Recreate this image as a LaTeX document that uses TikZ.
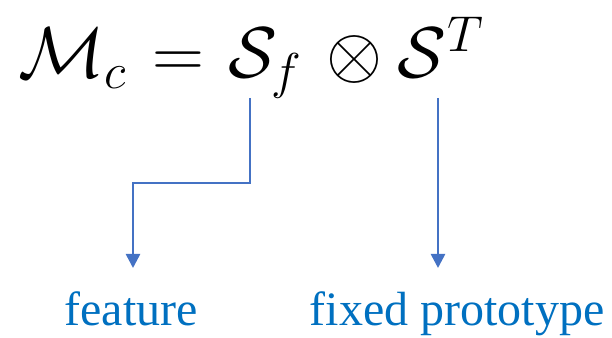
\documentclass[tikz,border=0pt]{standalone}
\usepackage{fix-cm}
\usepackage[no-math]{fontspec}
\setmainfont{Liberation Serif}
\usetikzlibrary{arrows.meta,positioning}
\definecolor{linkblue}{HTML}{4472C4}
\definecolor{labelblue}{HTML}{0070C0}
\tikzset{
  eqnode/.style={inner sep=0pt, font=\fontsize{72}{80}\selectfont},
  labelnode/.style={inner sep=0pt, text=labelblue, font=\fontsize{48}{56}\selectfont},
  pointer/.style={-{Triangle[length=14pt,width=14pt]}, draw=linkblue, line width=2.6pt}
}
\begin{document}
\begin{tikzpicture}[x=1pt,y=1pt]
\useasboundingbox (0,0) rectangle (612,337);
\node[eqnode, anchor=base west] (eq) at (18,259) {$\mathcal{M}_c \mkern1.5mu = \mkern1mu \mathcal{S}_f \mkern2mu \otimes \mathcal{S}^T$};
\coordinate (sfbase) at (250,239);
\coordinate (stbase) at (438,239);
\node[labelnode, anchor=base] (feature) at (131,12) {feature};
\node[labelnode, anchor=base] (proto) at (457,12) {fixed prototype};
\coordinate (sfbend) at (133,154);
\draw[pointer] (sfbase) |- (sfbend) -- (sfbend |- 0,69);
\draw[pointer] (stbase) -- (stbase |- 0,69);
\end{tikzpicture}
\end{document}
